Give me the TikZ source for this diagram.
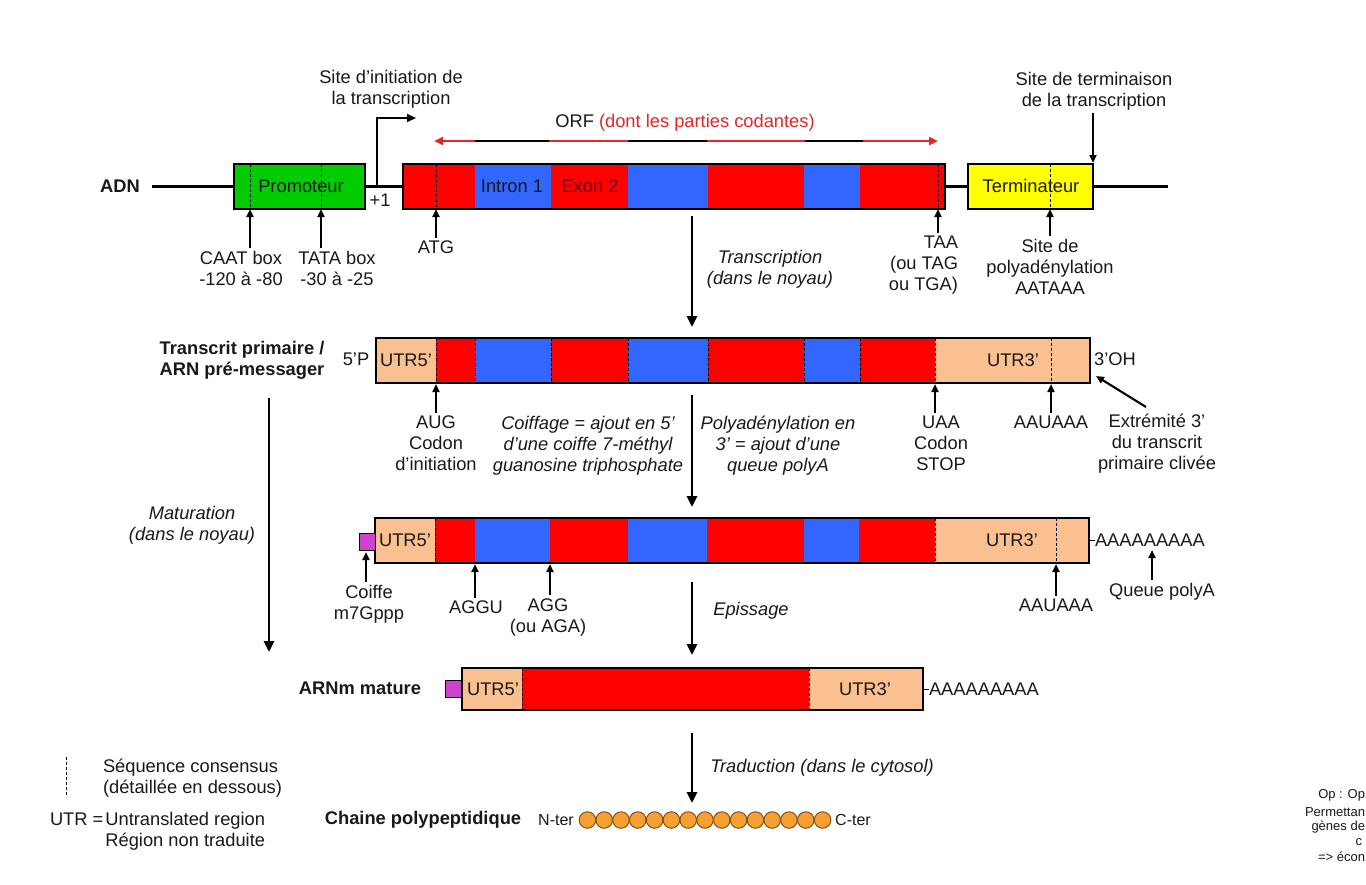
\documentclass[tikz,border=0pt]{standalone}
\usepackage{fontspec}
\setmainfont{Liberation Sans}
\usetikzlibrary{arrows.meta}
\definecolor{exred}{RGB}{255,0,0}
\definecolor{inblue}{RGB}{51,102,255}
\definecolor{utr}{RGB}{250,192,144}
\definecolor{promo}{RGB}{0,204,0}
\definecolor{termy}{RGB}{255,255,0}
\definecolor{capc}{RGB}{204,68,204}
\definecolor{aacol}{RGB}{246,160,51}
\definecolor{aaedge}{RGB}{130,80,25}
\definecolor{txt}{RGB}{25,25,25}
\definecolor{orfred}{RGB}{225,40,40}
\definecolor{exontxt}{RGB}{100,0,0}
\newcommand\mainfs{\fontsize{18.3}{21}\selectfont}
\begin{document}
\begin{tikzpicture}[x=1pt,y=-1pt,
  every node/.style={inner sep=0pt, outer sep=0pt, text=txt, font=\mainfs},
  outline/.style={draw=black, line width=1.5pt, minimum height=45pt, anchor=north west},
  consdash/.style={black, line width=1pt, dash pattern=on 3pt off 2pt},
  up/.style={-{Triangle[length=8pt,width=7pt]}, line width=2.1pt, black, shorten <=3pt},
  proc/.style={-{Triangle[length=11pt,width=10pt]}, line width=2.7pt, black},
  lbl/.style={align=center},
  itl/.style={align=center, font=\mainfs\itshape},
  bld/.style={align=center, font=\mainfs\bfseries},
  capbox/.style={draw=black, line width=1pt, fill=capc, minimum width=16pt, minimum height=17pt, anchor=north west},
  sidenote/.style={anchor=east, font=\fontsize{13}{15}\selectfont},
]
\fill[white] (0,0) rectangle (1366,884);
\useasboundingbox (0,0) rectangle (1366,884);

%% ===== Row 1 : ADN =====
\coordinate (adnA) at (152,186);
\coordinate (adnB) at (1168,186);
\draw[line width=3pt] (adnA) -- (adnB);
\node[bld] (adn) at (120,186) {ADN};

\node[outline, fill=promo, minimum width=131pt] (promo) at (234,164) {};
\node (promoT) at (301,186) {Promoteur};
\draw[consdash] (250,164) -- (250,208);
\draw[consdash] (321,164) -- (321,208);

\node (plus1) at (380,200) {+1};
\coordinate (tss) at (377,186);
\coordinate (tssEnd) at (416,118);
\draw[line width=2.1pt, -{Triangle[length=9pt,width=8pt]}] (tss) |- (tssEnd);
\node[lbl] (tssL) at (391,89) {Site d'initiation de\\la transcription};

\foreach \xa/\xb/\col in {403/475/exred,475/551/inblue,551/628/exred,628/708/inblue,708/804/exred,804/860/inblue,860/945/exred}
  \fill[\col] (\xa,164) rectangle (\xb,208);
\node[outline, minimum width=542pt] (gene) at (403,164) {};
\node (intron1) at (512,186) {Intron 1};
\node[text=exontxt] (exon2) at (590,186) {Exon 2};
\draw[consdash] (436,164) -- (436,208);
\draw[consdash] (938,164) -- (938,208);

\coordinate (orfA) at (434,141);
\coordinate (orfB) at (938,141);
\draw[line width=2.6pt, orfred, {Triangle[length=9pt,width=8pt]}-{Triangle[length=9pt,width=8pt]}] (orfA) -- (orfB);
\foreach \xa/\xb in {475/549,628/707,805/863}
  \draw[line width=2.6pt, black] (\xa,141) -- (\xb,141);
\node (orf) at (685,123) {ORF \textcolor{orfred}{(dont les parties codantes)}};

\node[outline, fill=termy, minimum width=125pt] (term) at (968,164) {};
\node (termT) at (1031,186) {Terminateur};
\draw[consdash] (1050,164) -- (1050,208);
\node[lbl] (termL) at (1094,91) {Site de terminaison\\de la transcription};
\coordinate (termTip) at (1093,163);
\draw[up] (termL.south -| termTip) -- (termTip);

% labels under row 1
\coordinate (caatTip) at (250,209);
\coordinate (tataTip) at (321,209);
\coordinate (atgTip) at (436,209);
\coordinate (taaTip) at (938,209);
\coordinate (aataTip) at (1050,209);
\node[lbl] (caat) at (241,268) {CAAT box\\-120 à -80};
\node[lbl] (tata) at (337,268) {TATA box\\-30 à -25};
\node (atg) at (436,247) {ATG};
\node[align=right, anchor=east] (taa) at (958,265) {TAA\\(ou TAG\\ou TGA)};
\node[lbl] (aata) at (1050,267) {Site de\\polyadénylation\\AATAAA};
\draw[up] (caat.north -| caatTip) -- (caatTip);
\draw[up] (tata.north -| tataTip) -- (tataTip);
\draw[up] (atg.north -| atgTip) -- (atgTip);
\draw[up] (taa.north -| taaTip) -- (taaTip);
\draw[up] (aata.north -| aataTip) -- (aataTip);

% transcription arrow
\coordinate (trA) at (692,216);
\coordinate (trB) at (692,327);
\draw[proc] (trA) -- (trB);
\node[itl] (trL) at (770,269) {Transcription\\(dans le noyau)};

%% ===== Row 2 : pre-mRNA =====
\foreach \xa/\xb/\col in {376/436/utr,436/475/exred,475/551/inblue,551/628/exred,628/708/inblue,708/804/exred,804/860/inblue,860/935/exred,935/1090/utr}
  \fill[\col] (\xa,338) rectangle (\xb,383);
\node[outline, minimum width=714pt] (pre) at (376,338) {};
\foreach \xx in {436,475,551,628,708,804,860,935,1051}
  \draw[consdash] (\xx,338) -- (\xx,383);
\node (pre5) at (406,360) {UTR5'};
\node (pre3) at (1013,360) {UTR3'};
\node (p5) at (356,359) {5'P};
\node (oh3) at (1115,359) {3'OH};
\node[bld] (preL) at (242,360) {Transcrit primaire /\\ARN pré-messager};

\coordinate (augTip) at (436,384);
\coordinate (uaaTip) at (935,384);
\coordinate (aauTip) at (1051,384);
\node[lbl] (aug) at (436,443) {AUG\\Codon\\d'initiation};
\node[lbl] (uaa) at (941,443) {UAA\\Codon\\STOP};
\node (aau) at (1051,422) {AAUAAA};
\draw[up] (aug.north -| augTip) -- (augTip);
\draw[up] (uaa.north -| uaaTip) -- (uaaTip);
\draw[up] (aau.north -| aauTip) -- (aauTip);
\node[lbl] (extr) at (1157,444) {Extrémité 3'\\du transcrit\\primaire clivée};
\coordinate (extrTail) at (1146,407);
\coordinate (extrTip) at (1096,376);
\draw[up, shorten <=0pt] (extrTail) -- (extrTip);

\node[itl] (coif) at (588,446) {Coiffage = ajout en 5'\\d'une coiffe 7-méthyl\\guanosine triphosphate};
\node[itl] (polyad) at (778,446) {Polyadénylation en\\3' = ajout d'une\\queue polyA};
\coordinate (matA) at (692,395);
\coordinate (matB) at (692,507);
\draw[proc] (matA) -- (matB);

\coordinate (bigA) at (269,398);
\coordinate (bigB) at (269,652);
\draw[proc] (bigA) -- (bigB);
\node[itl] (matL) at (192,525) {Maturation\\(dans le noyau)};

%% ===== Row 3 : capped + polyA =====
\foreach \xa/\xb/\col in {375/435/utr,435/475/exred,475/550/inblue,550/628/exred,628/707/inblue,707/804/exred,804/859/inblue,859/935/exred,935/1089/utr}
  \fill[\col] (\xa,518) rectangle (\xb,563);
\node[outline, minimum width=714pt] (mat) at (375,518) {};
\foreach \xx in {435,935,1056}
  \draw[consdash] (\xx,518) -- (\xx,563);
\node[capbox] (cap3) at (359,533) {};
\node (mat5) at (405,540) {UTR5'};
\node (mat3) at (1012,540) {UTR3'};
\node[anchor=west] (pa3) at (1095,540) {AAAAAAAAA};
\draw[line width=1pt] (mat.east |- pa3.west) -- (pa3.west);

\coordinate (coifTip) at (366,552);
\coordinate (agguTip) at (475,564);
\coordinate (aggTip) at (550,564);
\coordinate (aau3Tip) at (1056,564);
\coordinate (queueTip) at (1152,550);
\node[lbl] (coiffe) at (369,604) {Coiffe\\m7Gppp};
\node (aggu) at (476,607) {AGGU};
\node[lbl] (agg) at (548,617) {AGG\\(ou AGA)};
\node (aau3) at (1056,605) {AAUAAA};
\node (queue) at (1162,592) {Queue polyA};
\draw[up] (coiffe.north -| coifTip) -- (coifTip);
\draw[up] (aggu.north -| agguTip) -- (agguTip);
\draw[up] (agg.north -| aggTip) -- (aggTip);
\draw[up] (aau3.north -| aau3Tip) -- (aau3Tip);
\draw[up] (queue.north -| queueTip) -- (queueTip);

\coordinate (epA) at (692,582);
\coordinate (epB) at (692,655);
\draw[proc] (epA) -- (epB);
\node[itl] (epL) at (751,611) {Epissage};

%% ===== Row 4 : mature mRNA =====
\foreach \xa/\xb/\col in {462/522/utr,522/809/exred,809/923/utr}
  \fill[\col] (\xa,668) rectangle (\xb,710);
\node[outline, minimum width=461pt, minimum height=42pt] (mrna) at (462,668) {};
\foreach \xx in {522,809}
  \draw[consdash] (\xx,668) -- (\xx,710);
\node[capbox] (cap4) at (445,680) {};
\node (m5) at (493,689) {UTR5'};
\node (m3) at (865,689) {UTR3'};
\node[anchor=west] (pa4) at (929,689) {AAAAAAAAA};
\draw[line width=1pt] (mrna.east |- pa4.west) -- (pa4.west);
\node[bld] (mrnaL) at (360,688) {ARNm mature};

\coordinate (trdA) at (692,733);
\coordinate (trdB) at (692,803);
\draw[proc] (trdA) -- (trdB);
\node[itl] (trdL) at (822,768) {Traduction (dans le cytosol)};

%% ===== Polypeptide =====
\node[bld] (polyL) at (423,820) {Chaine polypeptidique};
\node[font=\fontsize{16}{19}\selectfont] (nter) at (556,820) {N-ter};
\foreach \k in {0,...,14}
  \node[circle, draw=aaedge, fill=aacol, line width=1pt, minimum size=16.5pt] (aa\k) at ({587.4+16.8*\k},820) {};
\node[font=\fontsize{16}{19}\selectfont] (cter) at (853,820) {C-ter};

%% ===== Legend =====
\draw[consdash] (66,757) -- (66,797);
\node[anchor=west, align=left] (legD) at (103,778) {Séquence consensus\\(détaillée en dessous)};
\node[anchor=north west, align=left] (legU) at (50,812) {UTR =\kern2pt Untranslated region\\\hphantom{UTR =\kern2pt }Région non traduite};

%% ===== side note at the right edge (partly outside the frame in the source) =====
\node[sidenote] (op1) at (1365,795) {Op : Op};
\node[sidenote] (op2) at (1365,812) {Permettan};
\node[sidenote] (op3) at (1365,827) {gènes de};
\node[sidenote] (op4) at (1362,842) {c};
\node[sidenote] (op5) at (1365,857) {=> écon};
\end{tikzpicture}
\end{document}
